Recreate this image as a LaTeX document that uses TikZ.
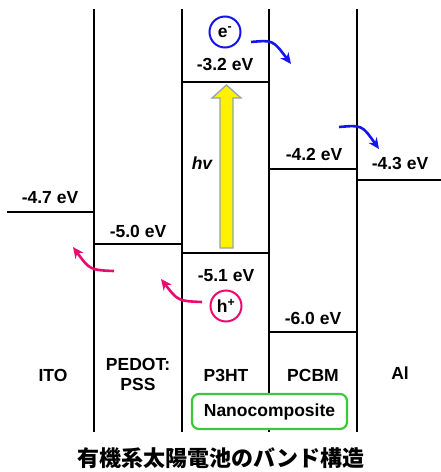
\documentclass[tikz,border=0pt]{standalone}
\usepackage{fontspec}
\setmainfont{Liberation Sans}
\newfontfamily\cjk{Noto Sans CJK JP}
\usepackage{tikz}
\usetikzlibrary{arrows.meta}
\usetikzlibrary{positioning}
\definecolor{eblue}{RGB}{20,20,235}
\definecolor{hpink}{RGB}{235,10,110}
\definecolor{boxgreen}{RGB}{60,200,60}
\definecolor{arrowgray}{RGB}{145,165,175}

\begin{document}
\begin{tikzpicture}[x=1pt,y=-1pt,
    band/.style={line width=2.6pt},
    lvl/.style={font=\bfseries\fontsize{17.5}{20}\selectfont},
    carrier/.style={circle,line width=2pt,minimum size=31pt,inner sep=0pt,font=\bfseries\fontsize{17.5}{20}\selectfont},
    hop/.style={line width=2.6pt,-{Stealth[length=11pt,width=10pt]}}]
            \useasboundingbox (0,0) rectangle (441,472);
            % 縦線
            \foreach \x in {94,182,269,357}
                \draw[band] (\x,9) -- (\x,432);
            
            % エネルギー準位
            \draw[band] (7,212) -- (94,212);
            \draw[band] (94,244) -- (182,244);
            \draw[band] (182,82) -- (269,82);
            \draw[band] (182,253) -- (269,253);
            \draw[band] (269,169) -- (357,169);
            \draw[band] (269,332) -- (357,332);
            \draw[band] (357,180) -- (441,180);
            
            \node[lvl] (ito) at (50,198) {-4.7 eV};
            \node[lvl] (pedot) at (138,231) {-5.0 eV};
            \node[lvl] (lumo) at (225,64) {-3.2 eV};
            \node[lvl] (homo) at (226,276) {-5.1 eV};
            \node[lvl] (pcbmlumo) at (314,154) {-4.2 eV};
            \node[lvl] (pcbmhomo) at (313,318) {-6.0 eV};
            \node[lvl] (al) at (400,163) {-4.3 eV};
            
            % 光励起
            \filldraw[fill=yellow,draw=arrowgray,line width=1.3pt]
                (220,248) -- (220,98) -- (212,98) -- (226.5,85) -- (241,98) -- (233,98) -- (233,248) -- cycle;
            \node[lvl,font=\bfseries\itshape\fontsize{17.5}{20}\selectfont] (hv) at (202,163) {hv};
            
            % 電子と正孔
            \node[carrier,draw=eblue] (elec) at (225,32) {e\textsuperscript{-}};
            \node[carrier,draw=hpink] (hole) at (226,306) {h\textsuperscript{+}};
            
            \coordinate (e1) at (251,42);
            \coordinate (e2) at (291,64);
            \coordinate (e3) at (339,127);
            \coordinate (e4) at (379,149);
            \coordinate (h1) at (202,302);
            \coordinate (h2) at (161,279);
            \coordinate (h3) at (114,271);
            \coordinate (h4) at (73,247);
            \draw[hop,eblue] (e1) .. controls (273,40) .. (e2);
            \draw[hop,eblue] (e3) .. controls (362,125) .. (e4);
            \draw[hop,hpink] (h1) .. controls (178,301) .. (h2);
            \draw[hop,hpink] (h3) .. controls (90,270) .. (h4);
            
            % 材料名
            \node[lvl] (nITO) at (53,375) {ITO};
            \node[lvl,align=center] (nPEDOT) at (138,374) {PEDOT:\\PSS};
            \node[lvl] (nP3HT) at (226,375) {P3HT};
            \node[lvl] (nPCBM) at (313,375) {PCBM};
            \node[lvl] (nAl) at (400,373) {Al};
            \node[lvl,draw=boxgreen,fill=white,line width=2.2pt,rounded corners=7pt,
                minimum width=155pt,minimum height=35pt] (nano) at (269.5,411.5) {Nanocomposite};
            
            \node[font=\cjk\bfseries\fontsize{22}{26}\selectfont] (title) at (221,458) {有機系太陽電池のバンド構造};
        \end{tikzpicture}
\end{document}
